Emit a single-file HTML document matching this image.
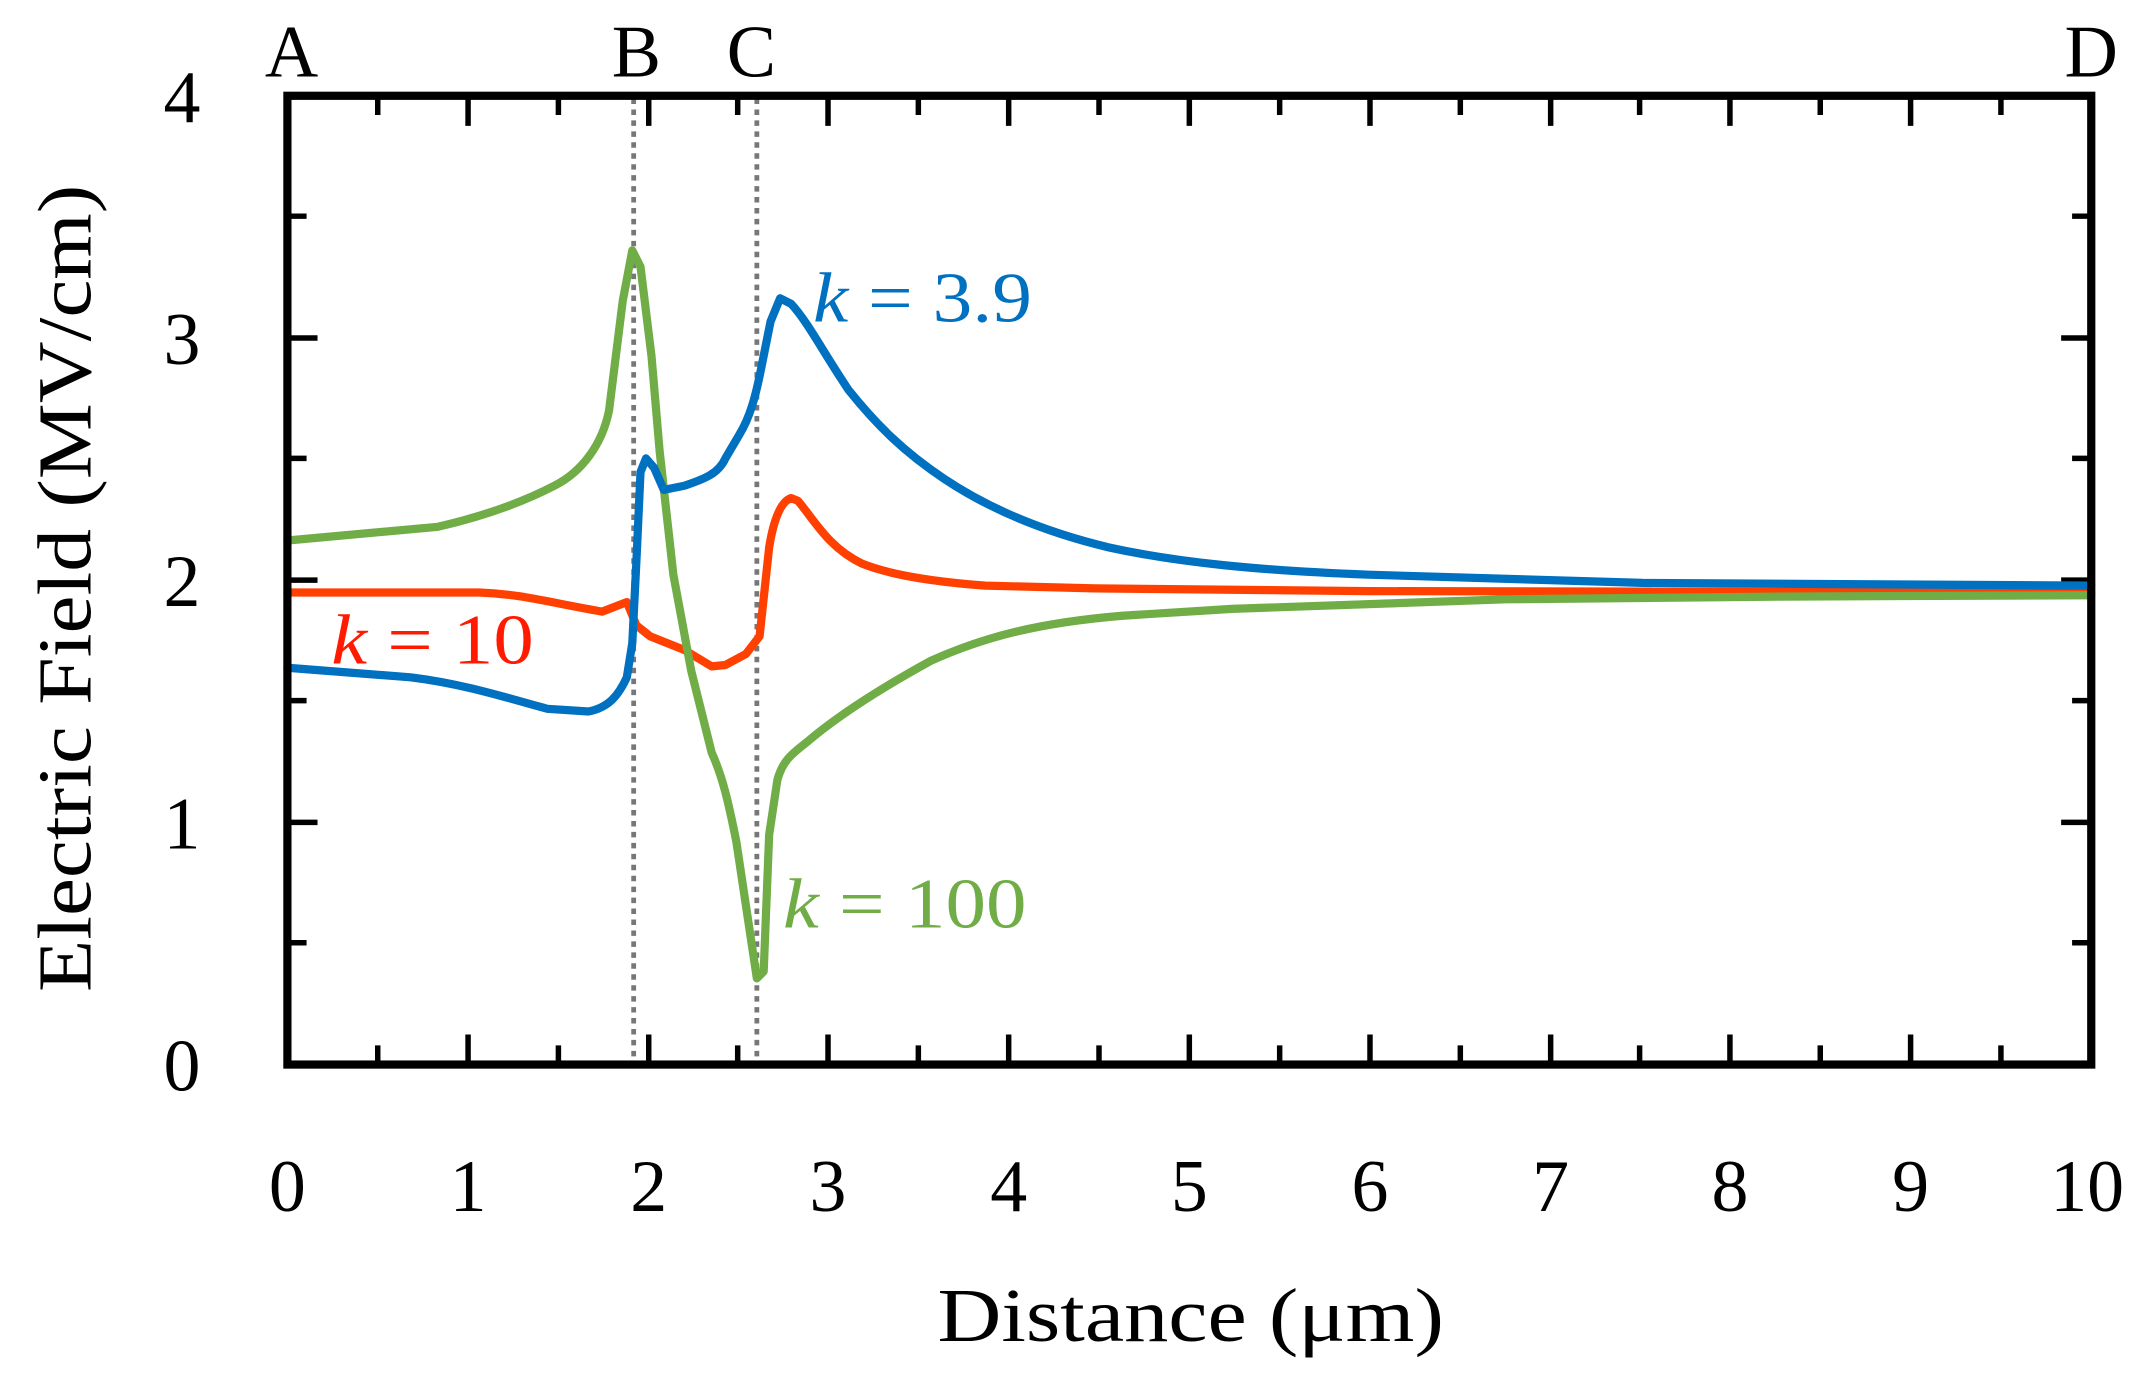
<!DOCTYPE html>
<html><head><meta charset="utf-8"><style>
html,body{margin:0;padding:0;background:#fff;}
svg{display:block;}
text{font-family:"Liberation Serif",serif;}
</style></head><body>
<svg width="2146" height="1382" viewBox="0 0 1568 1010" preserveAspectRatio="none" xmlns="http://www.w3.org/2000/svg">
<rect width="1568" height="1010" fill="#fff"/>
<g stroke="#000" stroke-width="4">
<path d="M276,778v-14 M342,778v-22 M408,778v-14 M474,778v-22 M539,778v-14 M605,778v-22 M671,778v-14 M737,778v-22 M803,778v-14 M869,778v-22 M935,778v-14 M1001,778v-22 M1067,778v-14 M1133,778v-22 M1198,778v-14 M1264,778v-22 M1330,778v-14 M1396,778v-22 M1462,778v-14"/>
<path d="M276,70v14 M342,70v22 M408,70v14 M474,70v22 M539,70v14 M605,70v22 M671,70v14 M737,70v22 M803,70v14 M869,70v22 M935,70v14 M1001,70v22 M1067,70v14 M1133,70v22 M1198,70v14 M1264,70v22 M1330,70v14 M1396,70v22 M1462,70v14"/>
<path d="M210,689h14 M210,601h22 M210,512h14 M210,424h22 M210,335h14 M210,247h22 M210,158h14"/>
<path d="M1528,689h-14 M1528,601h-22 M1528,512h-14 M1528,424h-22 M1528,335h-14 M1528,247h-22 M1528,158h-14"/>
</g>
<g stroke="#777" stroke-width="3.5" stroke-dasharray="4,4">
<line x1="463" y1="72" x2="463" y2="778"/>
<line x1="553" y1="72" x2="553" y2="778"/>
</g>
<g fill="none" stroke-width="6" stroke-linejoin="round" stroke-linecap="round">
<path stroke="#ff4000" d="M210,433 L350,433 C380,434 400,440 440,447 L458,440 L465,457 L475,465 L500,475 L520,487 L530,486 L545,478 L555,465 L562,400 C566,375 572,366 578,364 L583,366 C595,380 605,400 630,412 C650,420 680,425 720,428 L800,430 L1000,432 L1528,433"/>
<path stroke="#70ad47" d="M210,395 L320,385 C350,378 380,368 405,355 C425,345 440,325 445,300 L455,220 L462,183 L468,195 L476,260 L482,330 L492,420 L505,490 L520,550 C528,568 532,585 538,615 L553,715 L558,710 L562,610 L568,570 C572,555 580,550 590,542 C610,525 640,505 680,483 C720,465 760,455 820,450 L900,445 L1100,438 L1300,436 L1528,435"/>
<path stroke="#0070c0" d="M210,488 L300,495 C340,500 370,510 400,518 L430,520 C445,517 452,508 458,495 L462,470 L465,410 L468,345 L472,335 L478,342 L485,358 L500,355 C515,350 525,346 530,335 L540,318 C548,305 552,290 556,270 L563,235 L570,218 L578,222 C590,235 600,255 620,285 C640,310 660,330 690,350 C720,370 760,388 810,400 C860,411 920,417 1000,420 L1200,426 L1528,428"/>
</g>
<rect x="210" y="70" width="1318" height="708" fill="none" stroke="#000" stroke-width="6"/>
<g font-size="54" text-anchor="middle" fill="#000">
<text x="133" y="797">0</text>
<text x="133" y="620">1</text>
<text x="133" y="443">2</text>
<text x="133" y="266">3</text>
<text x="133" y="89">4</text>
<text x="210" y="885">0</text>
<text x="342" y="885">1</text>
<text x="474" y="885">2</text>
<text x="605" y="885">3</text>
<text x="737" y="885">4</text>
<text x="869" y="885">5</text>
<text x="1001" y="885">6</text>
<text x="1133" y="885">7</text>
<text x="1264" y="885">8</text>
<text x="1396" y="885">9</text>
<text x="1525" y="885">10</text>
<text x="213" y="56">A</text>
<text x="465" y="56">B</text>
<text x="549" y="56">C</text>
<text x="1528" y="56">D</text>
</g>
<text x="685" y="980" font-size="56" textLength="370" lengthAdjust="spacingAndGlyphs" fill="#000">Distance (μm)</text>
<text transform="translate(66,725) rotate(-90)" font-size="56" textLength="590" lengthAdjust="spacingAndGlyphs" fill="#000">Electric Field (MV/cm)</text>
<text x="594" y="235" font-size="52" textLength="160" lengthAdjust="spacingAndGlyphs" fill="#0070c0"><tspan font-style="italic">k</tspan> = 3.9</text>
<text x="242" y="485" font-size="52" textLength="148" lengthAdjust="spacingAndGlyphs" fill="#ff1a00"><tspan font-style="italic">k</tspan> = 10</text>
<text x="572" y="678" font-size="52" textLength="178" lengthAdjust="spacingAndGlyphs" fill="#70ad47"><tspan font-style="italic">k</tspan> = 100</text>
</svg>
</body></html>
